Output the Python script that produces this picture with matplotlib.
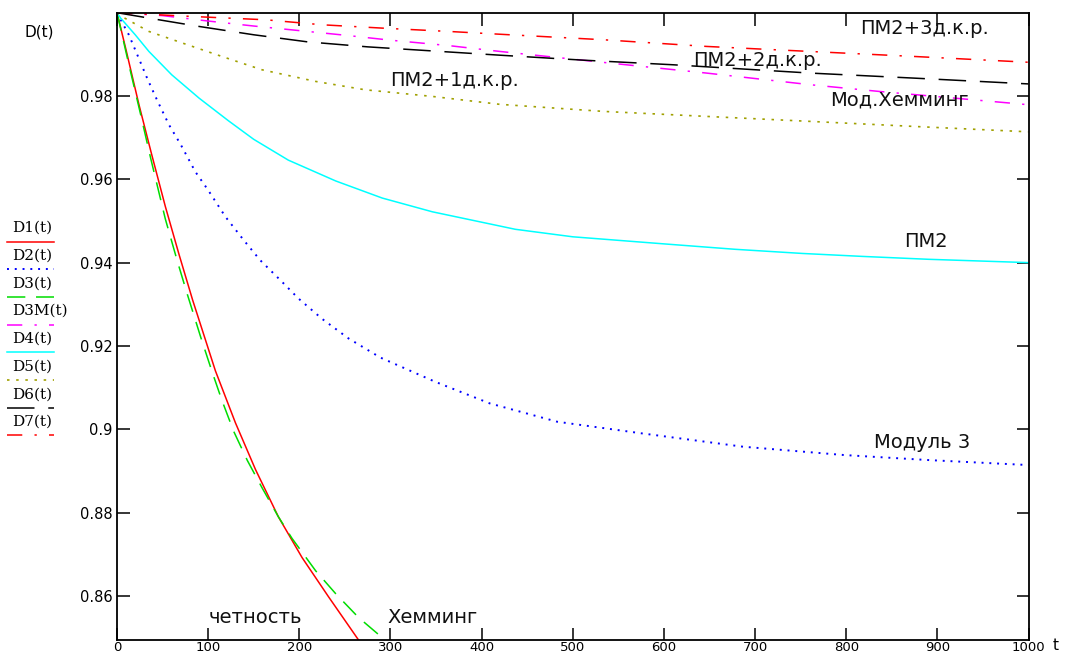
import matplotlib.pyplot as plt
from matplotlib.lines import Line2D

# reliability curves D(t)
t1 = [0, 10, 24, 38, 53, 68, 83, 108, 130, 152, 177, 203, 232, 265, 280]
d1 = [1.0, 0.991, 0.978, 0.966, 0.9535, 0.942, 0.931, 0.914, 0.9015, 0.8903, 0.879, 0.8692, 0.8598, 0.8494, 0.845]

t2 = [0, 6, 13, 24, 33, 44, 57, 70, 86, 100, 119, 139, 157, 181, 199, 225, 254, 289, 349, 409, 483, 576, 687, 798, 890, 1000]
d2 = [1.0, 0.9975, 0.9947, 0.989, 0.9843, 0.979, 0.9731, 0.9683, 0.9618, 0.9574, 0.951, 0.9454, 0.9406, 0.9354, 0.9314,
      0.9265, 0.9218, 0.9172, 0.9114, 0.9062, 0.9018, 0.899, 0.8958, 0.8938, 0.8926, 0.8914]

t3 = [0, 12, 26, 37, 53, 66, 77, 92, 104, 115, 128, 143, 159, 177, 192, 218, 240, 265, 294, 310]
d3 = [1.0, 0.9885, 0.9755, 0.965, 0.9505, 0.9405, 0.9325, 0.922, 0.914, 0.907, 0.8995, 0.8925, 0.886, 0.879, 0.8738,
      0.866, 0.8605, 0.8548, 0.8494, 0.846]

t3m = [0, 50, 100, 150, 200, 250, 300, 364, 420, 541, 647, 761, 836, 980, 1000]
d3m = [1.0, 0.9993, 0.998, 0.9968, 0.9957, 0.9946, 0.9934, 0.9921, 0.9907, 0.9879, 0.9855, 0.9827, 0.9811, 0.9783, 0.9779]

t4 = [0, 4, 20, 35, 60, 90, 122, 150, 188, 240, 291, 346, 437, 500, 600, 678, 752, 817, 890, 1000]
d4 = [1.0, 0.9987, 0.9947, 0.9907, 0.9851, 0.9795, 0.9741, 0.9696, 0.9646, 0.9596, 0.9555, 0.9522, 0.948, 0.9462,
      0.9445, 0.9432, 0.9422, 0.9415, 0.9408, 0.94]

t5 = [0, 6, 35, 72, 115, 159, 218, 272, 346, 420, 534, 647, 761, 874, 1000]
d5 = [1.0, 0.999, 0.9955, 0.9927, 0.9895, 0.9863, 0.9835, 0.9815, 0.9799, 0.978, 0.9763, 0.9751, 0.9739, 0.9727, 0.9714]

t6 = [0, 46, 90, 150, 209, 275, 333, 420, 512, 610, 761, 874, 1000]
d6 = [1.0, 0.9983, 0.9967, 0.9947, 0.993, 0.9918, 0.991, 0.9898, 0.9886, 0.9875, 0.9855, 0.9843, 0.9829]

t7 = [0, 9, 82, 163, 225, 291, 364, 431, 534, 647, 760, 874, 1000]
d7 = [1.0, 0.9999, 0.9991, 0.9983, 0.9971, 0.9963, 0.9955, 0.9947, 0.9935, 0.9919, 0.9907, 0.9895, 0.9881]

names = ["D1(t)", "D2(t)", "D3(t)", "D3M(t)", "D4(t)", "D5(t)", "D6(t)", "D7(t)"]

xticks = [0, 100, 200, 300, 400, 500, 600, 700, 800, 900, 1000]
yticks = [0.86, 0.88, 0.90, 0.92, 0.94, 0.96, 0.98]
ylabels = ["0.86", "0.88", "0.9", "0.92", "0.94", "0.96", "0.98"]

# text labels on the curves: (text, t, D)
notes = [("ПМ2+3д.к.р.", 815, 0.9963),
         ("ПМ2+2д.к.р.", 632, 0.9886),
         ("Мод.Хемминг", 782, 0.979),
         ("ПМ2+1д.к.р.", 300, 0.9838),
         ("ПМ2", 864, 0.9450),
         ("Модуль 3", 831, 0.8967),
         ("четность", 100, 0.8549),
         ("Хемминг", 297, 0.8549)]

dashdot = (0, (10, 8, 1.5, 8))
styles = [
    dict(color="#ff0000", ls="-", lw=1.1),
    dict(color="#0000ff", ls=(0, (1, 3)), lw=1.4),
    dict(color="#00dd00", ls=(0, (12, 7)), lw=1.1),
    dict(color="#ff00ff", ls=dashdot, lw=1.1),
    dict(color="#00ffff", ls="-", lw=1.1),
    dict(color="#a0a000", ls=(0, (1.5, 4)), lw=1.2),
    dict(color="#000000", ls=(0, (18, 9)), lw=1.1),
    dict(color="#ff0000", ls=dashdot, lw=1.1),
]
series = [(t1, d1), (t2, d2), (t3, d3), (t3m, d3m), (t4, d4), (t5, d5), (t6, d6), (t7, d7)]

W, H = 1067, 657
fig = plt.figure(figsize=(W / 100, H / 100), dpi=100)
ax = fig.add_axes([117 / W, 1 - 640 / H, (1028.5 - 117) / W, (640 - 12.7) / H])

for (tt, dd), st in zip(series, styles):
    ax.plot(tt, dd, **st)

ax.set_xlim(0, 1000)
ax.set_ylim(0.8494, 1.0)
ax.set_xticks(xticks)
ax.set_xticklabels([str(v) for v in xticks])
ax.set_yticks(yticks)
ax.set_yticklabels(ylabels)
ax.tick_params(direction="in", length=9, width=1.1, top=True, right=True,
               labelsize=10.5, pad=3, colors="black")
ax.tick_params(axis="x", labelsize=9.5, pad=1)
for sp in ax.spines.values():
    sp.set_linewidth(1.3)

for txt, tx, ty in notes:
    ax.text(tx, ty, txt, fontsize=14, ha="left", va="center", color="#111111")

fig.text(25 / W, 1 - 32 / H, "D(t)", fontsize=11, ha="left", va="center")
fig.text(1053 / W, 1 - 646 / H, "t", fontsize=11, ha="left", va="center")

# legend on the left: name above a short sample of the line
for i, (nm, st) in enumerate(zip(names, styles)):
    ytxt = 228 + i * 27.7
    fig.text(12 / W, 1 - ytxt / H, nm, fontsize=11, family="DejaVu Serif", ha="left", va="center")
    yl = 1 - (ytxt + 13.5) / H
    fig.add_artist(Line2D([7 / W, 54 / W], [yl, yl], transform=fig.transFigure,
                          lw=st["lw"], color=st["color"], ls=st["ls"]))

fig.savefig("out.png", dpi=100)
